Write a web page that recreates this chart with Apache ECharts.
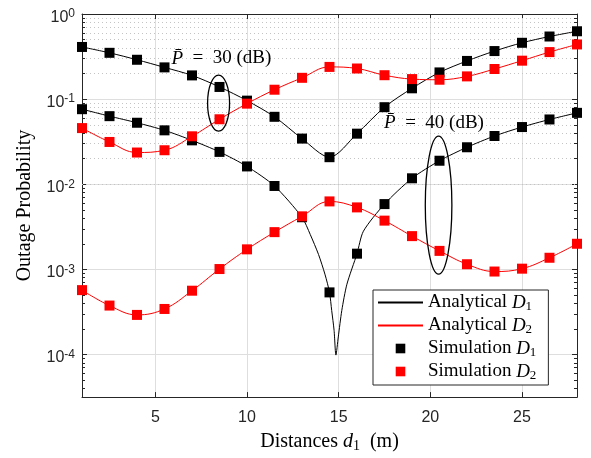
<!DOCTYPE html>
<html><head><meta charset="utf-8">
<script src="https://cdn.jsdelivr.net/npm/echarts@6/dist/echarts.min.js"></script>
<style>html,body{margin:0;padding:0;background:#fff}#c{width:591px;height:458px}</style>
</head><body><div id="c"></div>
<script>
// ---- data ----
const distances = [1, 2.5, 4, 5.5, 7, 8.5, 10, 11.5, 13, 14.5, 16, 17.5, 19, 20.5, 22, 23.5, 25, 26.5, 28];
// P = 30 dB
const simD1_30 = [0.41, 0.35, 0.29, 0.236, 0.19, 0.139, 0.096, 0.062, 0.0344, 0.0208, 0.0393, 0.0804, 0.134, 0.206, 0.281, 0.367, 0.459, 0.544, 0.627];
const simD2_30 = [0.0457, 0.0314, 0.0236, 0.0251, 0.0366, 0.058, 0.0885, 0.129, 0.178, 0.239, 0.229, 0.191, 0.172, 0.169, 0.185, 0.226, 0.283, 0.357, 0.439];
// P = 40 dB
const simD1_40 = [0.0762, 0.0631, 0.0528, 0.043, 0.0328, 0.024, 0.0162, 0.00955, 0.0041, 0.000537, 0.00153, 0.00585, 0.01175, 0.0189, 0.0272, 0.0369, 0.047, 0.0577, 0.069];
const simD2_40 = [0.000571, 0.000376, 0.000292, 0.000343, 0.000562, 0.00101, 0.00172, 0.00274, 0.0042, 0.00629, 0.00535, 0.00374, 0.00246, 0.00165, 0.00115, 0.000944, 0.00102, 0.00137, 0.002];
// analytical D1 at 40 dB, read more densely around the notch
const anaD1_40_x = [1, 2.5, 4, 5.5, 7, 8.5, 10, 11.5, 13, 13.45, 13.9, 14.25, 14.5, 14.62, 14.75, 14.85, 14.98, 15.17, 15.45, 16, 16.35, 17.5, 19, 20.5, 22, 23.5, 25, 26.5, 28];
const anaD1_40 = [0.0762, 0.0631, 0.0528, 0.043, 0.0328, 0.024, 0.0162, 0.00955, 0.0041, 0.00257, 0.0015, 0.00088, 0.000537, 0.000329, 0.000192, 0.0000985, 0.000161, 0.000329, 0.00067, 0.00153, 0.00281, 0.00585, 0.01175, 0.0189, 0.0272, 0.0369, 0.047, 0.0577, 0.069];
const xTickLabels = [5, 10, 15, 20, 25];
const yDecades = [-4, -3, -2, -1, 0];
const legendNames = ['Analytical D1', 'Analytical D2', 'Simulation D1', 'Simulation D2'];

// ---- layout / style constants ----
const X_MIN = 1, X_MAX = 28, Y_MIN = Math.pow(10, -4.5), Y_MAX = 1;
const SERIF = 'Liberation Serif', SANS = 'Liberation Sans';
const zip = (xs, ys) => xs.map((x, i) => [x, ys[i]]);

const minorVals = [];
for (let n = -5; n < 0; n++) for (let k = 2; k <= 9; k++) { const v = k * Math.pow(10, n); if (v > Y_MIN && v < Y_MAX) minorVals.push(v); }
const tickDx = 3 / 18.33;
const markData = [];
minorVals.forEach(v => markData.push({ yAxis: v }));
minorVals.forEach(v => {
  markData.push([{ coord: [X_MIN, v], lineStyle: { type: 'solid', color: '#262626', width: 1 } }, { coord: [X_MIN + tickDx, v] }]);
  markData.push([{ coord: [X_MAX - tickDx, v], lineStyle: { type: 'solid', color: '#262626', width: 1 } }, { coord: [X_MAX, v] }]);
});

function anaSeries(name, data, color, smooth) {
  return { type: 'line', name, data, symbol: 'none', smooth, silent: true,
    lineStyle: { color, width: 1 }, itemStyle: { color }, z: 3 };
}
function simSeries(name, data, color) {
  return { type: 'line', name, data, symbol: 'rect', symbolSize: 10, showAllSymbol: true, silent: true,
    lineStyle: { width: 0 }, itemStyle: { color }, z: 4 };
}

const yLabelFmt = v => {
  const e = Math.log10(v), r = Math.round(e);
  if (Math.abs(e - r) > 1e-6 || yDecades.indexOf(r) < 0) return '';
  return '{b|10}{e|' + r + '}';
};
const yAxisBase = {
  type: 'log', logBase: 10, min: Y_MIN, max: Y_MAX,
  axisLine: { show: true, lineStyle: { color: '#262626', width: 1 } },
  axisTick: { show: true, inside: true, length: 5, lineStyle: { color: '#262626' } },
  minorTick: { show: false }
};
const xAxisBase = {
  type: 'value', min: X_MIN, max: X_MAX,
  axisLine: { show: true, onZero: false, lineStyle: { color: '#262626', width: 1 } },
  axisTick: { show: true, inside: true, length: 5, lineStyle: { color: '#262626' } }
};

const chart = echarts.init(document.getElementById('c'), null, { renderer: 'canvas' });
chart.setOption({
  animation: false,
  backgroundColor: '#fff',
  grid: { left: 82, right: 14, top: 14, bottom: 57, containLabel: false },
  xAxis: [
    Object.assign({}, xAxisBase, {
      position: 'bottom',
      name: '{n|Distances }{i|d}{s|1}{n|  (m)}', nameLocation: 'middle', nameGap: 27,
      nameTextStyle: { rich: {
        n: { fontFamily: SERIF, fontSize: 20, color: '#000', lineHeight: 22 },
        i: { fontFamily: SERIF, fontStyle: 'italic', fontSize: 20, color: '#000', lineHeight: 22 },
        s: { fontFamily: SERIF, fontSize: 14, color: '#000', lineHeight: 14, padding: [9, 0, 0, 0] } } },
      axisLabel: { show: true, margin: 12, fontFamily: SANS, fontSize: 16, color: '#262626',
        formatter: v => (xTickLabels.indexOf(v) >= 0 ? String(v) : '') },
      splitLine: { show: true, lineStyle: { color: '#dedede', width: 1 } }
    }),
    Object.assign({}, xAxisBase, { position: 'top', axisLabel: { show: false }, splitLine: { show: false } })
  ],
  yAxis: [
    Object.assign({}, yAxisBase, {
      position: 'left',
      name: 'Outage Probability', nameLocation: 'middle', nameGap: 47,
      nameTextStyle: { fontFamily: SERIF, fontSize: 20, color: '#000' },
      axisLabel: { show: true, margin: 7, color: '#262626', formatter: yLabelFmt, padding: [4, 0, 0, 0],
        rich: {
          b: { fontFamily: SANS, fontSize: 16, lineHeight: 16, padding: [3, 0, 0, 0], color: '#262626' },
          e: { fontFamily: SANS, fontSize: 12, lineHeight: 12, verticalAlign: 'top', color: '#262626' } } },
      splitLine: { show: true, lineStyle: { color: '#dedede', width: 1 } }
    }),
    Object.assign({}, yAxisBase, { position: 'right', axisLabel: { show: false }, splitLine: { show: false } })
  ],
  legend: {
    orient: 'vertical', left: 373, top: 290,
    itemWidth: 45, itemHeight: 12, itemGap: 2,
    padding: [2, 12, 3, 4],
    borderColor: '#262626', borderWidth: 1, borderRadius: 0, backgroundColor: '#fff',
    selectedMode: false,
    textStyle: { color: '#000', rich: {
      t: { fontFamily: SERIF, fontSize: 19, lineHeight: 20, color: '#000' },
      i: { fontFamily: SERIF, fontStyle: 'italic', fontSize: 19, lineHeight: 20, color: '#000' },
      s: { fontFamily: SERIF, fontSize: 13, lineHeight: 13, padding: [8, 0, 0, 0], color: '#000' } } },
    formatter: name => { const p = name.split(' '); return '{t|' + p[0] + ' }{i|D}{s|' + p[1].slice(1) + '}'; },
    data: [
      { name: legendNames[0], itemStyle: { opacity: 0 } },
      { name: legendNames[1], itemStyle: { opacity: 0 } },
      { name: legendNames[2], lineStyle: { opacity: 0 } },
      { name: legendNames[3], lineStyle: { opacity: 0 } }
    ]
  },
  series: [
    { type: 'line', name: 'grid-minor', data: [], silent: true, z: 1,
      markLine: { silent: true, z: 1, symbol: ['none', 'none'], label: { show: false }, animation: false,
        emphasis: { disabled: true },
        lineStyle: { type: [1, 3], color: '#c4c4c4', width: 1 }, data: markData } },
    anaSeries(legendNames[0], zip(distances, simD1_30), '#000', 0.3),
    anaSeries(legendNames[0], zip(anaD1_40_x, anaD1_40), '#000', 0.25),
    anaSeries(legendNames[1], zip(distances, simD2_30), '#ff0000', 0.4),
    anaSeries(legendNames[1], zip(distances, simD2_40), '#ff0000', 0.4),
    simSeries(legendNames[2], zip(distances, simD1_30), '#000'),
    simSeries(legendNames[2], zip(distances, simD1_40), '#000'),
    simSeries(legendNames[3], zip(distances, simD2_30), '#ff0000'),
    simSeries(legendNames[3], zip(distances, simD2_40), '#ff0000')
  ]
});

// ---- annotations (anchored in data coordinates) ----
const annText30 = [8.6, 0.3], annText40 = [20.2, 0.053];
const annEll30 = [8.45, 0.0898], annEll40 = [20.45, 0.0057];
const toPx = p => chart.convertToPixel({ xAxisIndex: 0, yAxisIndex: 0 }, p);
const annRich = {
  i: { fontFamily: SERIF, fontStyle: 'italic', fontSize: 19, fill: '#000' },
  n: { fontFamily: SERIF, fontSize: 19, fill: '#000' }
};
const t30 = toPx(annText30), t40 = toPx(annText40), e30 = toPx(annEll30), e40 = toPx(annEll40);
chart.setOption({ graphic: [
  { type: 'ellipse', z: 10, silent: true, shape: { cx: e30[0], cy: e30[1], rx: 11, ry: 28 }, style: { fill: 'none', stroke: '#000', lineWidth: 1.3 } },
  { type: 'ellipse', z: 10, silent: true, shape: { cx: e40[0], cy: e40[1], rx: 13.3, ry: 69 }, style: { fill: 'none', stroke: '#000', lineWidth: 1.3 } },
  { type: 'text', z: 10, silent: true, x: t30[0], y: t30[1], style: { text: '{i|P\u0304}{n|  =  30 (dB)}', rich: annRich, align: 'center', verticalAlign: 'middle' } },
  { type: 'text', z: 10, silent: true, x: t40[0], y: t40[1], style: { text: '{i|P\u0304}{n|  =  40 (dB)}', rich: annRich, align: 'center', verticalAlign: 'middle' } }
] });
</script>
</body></html>
